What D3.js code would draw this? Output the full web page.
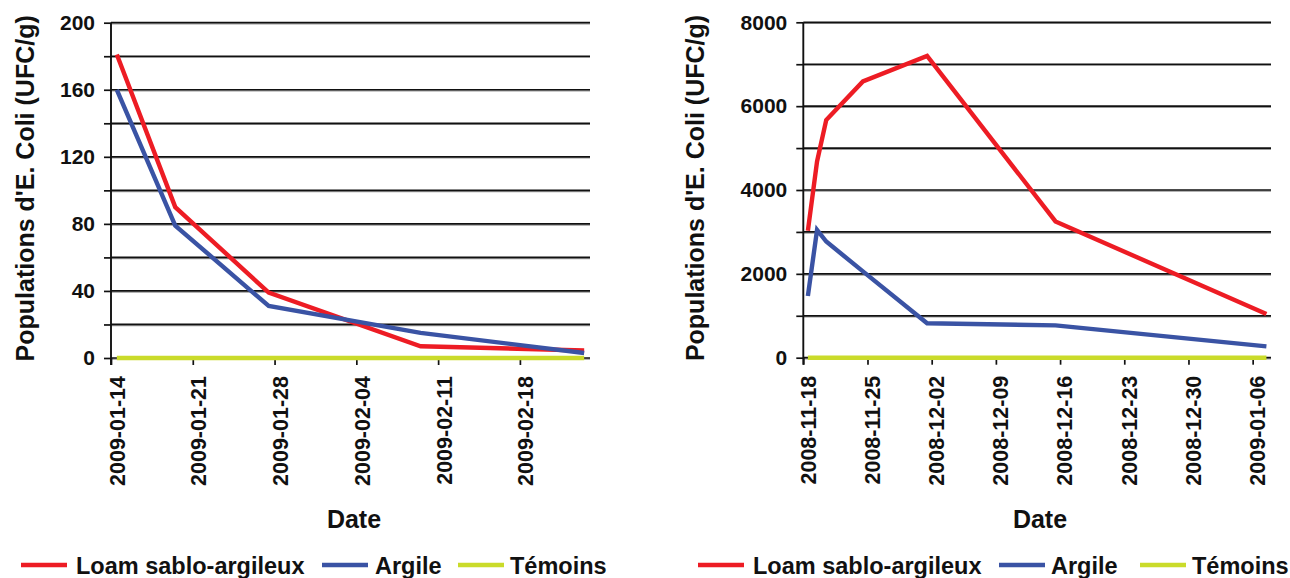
<!DOCTYPE html>
<html><head><meta charset="utf-8">
<script src="https://cdn.jsdelivr.net/npm/d3@7/dist/d3.min.js"></script>
<style>
html,body{margin:0;padding:0;background:#fff;}
svg{display:block;font-family:"Liberation Sans",Arial,Helvetica,sans-serif;font-weight:bold;}
</style></head>
<body>
<svg id="chart" width="1290" height="578"></svg>
<script>
// ---- Data ----
const seriesNames = ["Loam sablo-argileux", "Argile", "Témoins"];
const seriesColors = ["#ed1c24", "#3a53a4", "#cadb2a"];

// Left panel
const datesA = ["2009-01-14", "2009-01-19", "2009-01-27", "2009-02-09", "2009-02-23"];
const loamA = [181, 90, 39, 7, 4.5];
const argileA = [160, 79, 31, 15, 3];
const temoinsA = [0, 0, 0, 0, 0];
const yTicksA = [0, 40, 80, 120, 160, 200];
const xTicksA = ["2009-01-14", "2009-01-21", "2009-01-28", "2009-02-04", "2009-02-11", "2009-02-18"];

// Right panel
const datesB = ["2008-11-18", "2008-11-19", "2008-11-20", "2008-11-24", "2008-12-01", "2008-12-15", "2009-01-07"];
const loamB = [3030, 4680, 5670, 6590, 7200, 3250, 1040];
const argileB = [1470, 3050, 2770, 2060, 820, 770, 270];
const temoinsB = [0, 0, 0, 0, 0, 0, 0];
const yTicksB = [0, 2000, 4000, 6000, 8000];
const xTicksB = ["2008-11-18", "2008-11-25", "2008-12-02", "2008-12-09", "2008-12-16", "2008-12-23", "2008-12-30", "2009-01-06"];

const yTitle = "Populations d'E. Coli (UFC/g)";
const xTitle = "Date";

const parse = d3.utcParse("%Y-%m-%d");
const HALF = 12 * 3600 * 1000;
const svg = d3.select("#chart");

function panel(o) {
  const g = svg.append("g");
  const x = d3.scaleUtc().domain([parse(o.xStart), parse(o.xEnd)]).range([o.left, o.right]);
  const y = d3.scaleLinear().domain([0, o.yMax]).range([o.bottom, o.top]);

  // gridlines
  const grid = d3.range(0, o.yMax + 1, o.gridStep);
  g.append("g").selectAll("line").data(grid).join("line")
    .attr("x1", o.left).attr("x2", o.right)
    .attr("y1", d => y(d) + 1.2).attr("y2", d => y(d) + 1.2)
    .attr("stroke", "#9a9a9a").attr("stroke-width", 1.2);
  g.append("g").selectAll("line").data(grid).join("line")
    .attr("x1", o.left).attr("x2", o.right)
    .attr("y1", d => y(d)).attr("y2", d => y(d))
    .attr("stroke", "#111").attr("stroke-width", 1.7);

  // y axis
  const ya = g.append("g").attr("transform", `translate(${o.left},0)`)
    .call(d3.axisLeft(y).tickValues(grid).tickSize(7).tickSizeOuter(0)
      .tickFormat(d => o.yLabels.includes(d) ? String(d) : ""));
  ya.select(".domain").remove();
  ya.selectAll(".tick line").attr("stroke", "#111").attr("stroke-width", 1.7);
  ya.selectAll(".tick text").attr("x", -16).attr("font-size", 21).attr("font-weight", "bold")
    .attr("font-family", "Liberation Sans, Arial, sans-serif").attr("fill", "#111");
  g.append("line").attr("x1", o.left).attr("x2", o.left).attr("y1", o.top).attr("y2", o.bottom + 7)
    .attr("stroke", "#111").attr("stroke-width", 1.9);

  // x axis ticks
  const xt = o.xTicks.map(parse);
  const xa = g.append("g").attr("transform", `translate(0,${o.bottom})`)
    .call(d3.axisBottom(x).tickValues(xt).tickSize(7).tickSizeOuter(0).tickFormat(""));
  xa.select(".domain").remove();
  xa.selectAll(".tick line").attr("stroke", "#111").attr("stroke-width", 1.7);

  // x tick labels (rotated, centred on each day)
  g.append("g").selectAll("text").data(o.xTicks).join("text")
    .attr("transform", d => `translate(${x(+parse(d) + HALF)},${o.bottom + 18}) rotate(-90)`)
    .attr("text-anchor", "end").attr("dy", "0.36em")
    .attr("font-size", 21.5).attr("fill", "#111").text(d => d);

  // series
  const line = d3.line().x(d => x(+parse(d.date) + HALF)).y(d => y(d.v));
  o.series.forEach((vals, i) => {
    const pts = o.dates.map((dt, k) => ({ date: dt, v: vals[k] })).filter(p => p.v != null);
    g.append("path").datum(pts).attr("d", line)
      .attr("fill", "none").attr("stroke", seriesColors[i]).attr("stroke-width", 4.4)
      .attr("stroke-linejoin", "miter");
  });

  // titles
  g.append("text").attr("transform", `translate(${o.yTitleX},${(o.top + o.bottom) / 2 - 2}) rotate(-90)`)
    .attr("text-anchor", "middle").attr("dy", "0.35em").attr("font-size", 25).attr("fill", "#111").text(yTitle);
  g.append("text").attr("x", o.xTitleX).attr("y", 528).attr("text-anchor", "middle")
    .attr("font-size", 25).attr("fill", "#111").text(xTitle);

  // legend
  const ly = 565;
  seriesNames.forEach((nm, i) => {
    g.append("line").attr("x1", o.legendLineX[i]).attr("x2", o.legendLineX[i] + 46).attr("y1", ly).attr("y2", ly)
      .attr("stroke", seriesColors[i]).attr("stroke-width", 4.6);
    g.append("text").attr("x", o.legendTextX[i]).attr("y", ly + 8.5).attr("font-size", 23.5)
      .attr("fill", "#111").text(nm);
  });
}

panel({
  xStart: "2009-01-14", xEnd: "2009-02-24", left: 111, right: 590,
  top: 22.7, bottom: 358, yMax: 200, gridStep: 20, yLabels: yTicksA,
  xTicks: xTicksA, dates: datesA, series: [loamA, argileA, temoinsA],
  yTitleX: 25, xTitleX: 354,
  legendLineX: [21, 322, 458], legendTextX: [76, 375, 510]
});
panel({
  xStart: "2008-11-18", xEnd: "2009-01-08", left: 803.3, right: 1271,
  top: 22.3, bottom: 357.7, yMax: 8000, gridStep: 1000, yLabels: yTicksB,
  xTicks: xTicksB, dates: datesB, series: [loamB, argileB, temoinsB],
  yTitleX: 695, xTitleX: 1040,
  legendLineX: [698, 999, 1140], legendTextX: [753, 1051, 1192]
});
</script>
</body></html>
